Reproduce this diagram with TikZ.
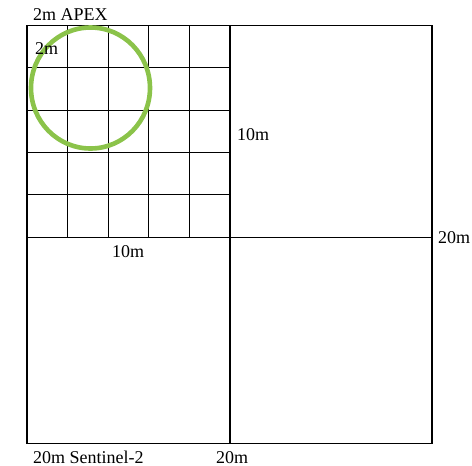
\documentclass[tikz,border=0pt]{standalone}
\usepackage{fontspec}
\setmainfont{Liberation Serif}
\usepackage{tikz}
\tikzset{every node/.style={font=\fontsize{18}{21}\selectfont, inner sep=0pt, anchor=base west}}
\colorlet{gridcol}{black}
\definecolor{apexcol}{RGB}{139,195,74}

\begin{document}
\begin{tikzpicture}[x=1pt, y=-1pt]

  \useasboundingbox (0,0) rectangle (472,466);

  % Sentinel-2 pixels (20m).
  \draw[line width=1.1pt, gridcol] (27,25.5) rectangle (432,443.3);
  \draw[line width=1.1pt, gridcol] (230,25.5) -- (230,443.3);
  \draw[line width=1.1pt, gridcol] (27,237.3) -- (432,237.3);

  % APEX pixels (2m) in the upper left quadrant.
  \foreach \i in {1,...,4} {
    \draw[line width=1.1pt, gridcol] ({27+40.6*\i},25.5) -- ({27+40.6*\i},237.3);
    \draw[line width=1.1pt, gridcol] (27,{25.5+42.36*\i}) -- (230,{25.5+42.36*\i});
  }

  % Footprint.
  \draw[line width=4.6pt, apexcol] (90.5,88) circle [x radius=59.5pt, y radius=60.5pt];

  % Labels.
  \node (apex)  at (33,20)     {2m APEX};
  \node (apexw) at (35,54)     {2m};
  \node (tenr)  at (237,140)   {10m};
  \node (tenb)  at (112,257.5) {10m};
  \node (twr)   at (438,243)   {20m};
  \node (senti) at (33,463)    {20m Sentinel-2};
  \node (twb)   at (216,463)   {20m};

\end{tikzpicture}
\end{document}
